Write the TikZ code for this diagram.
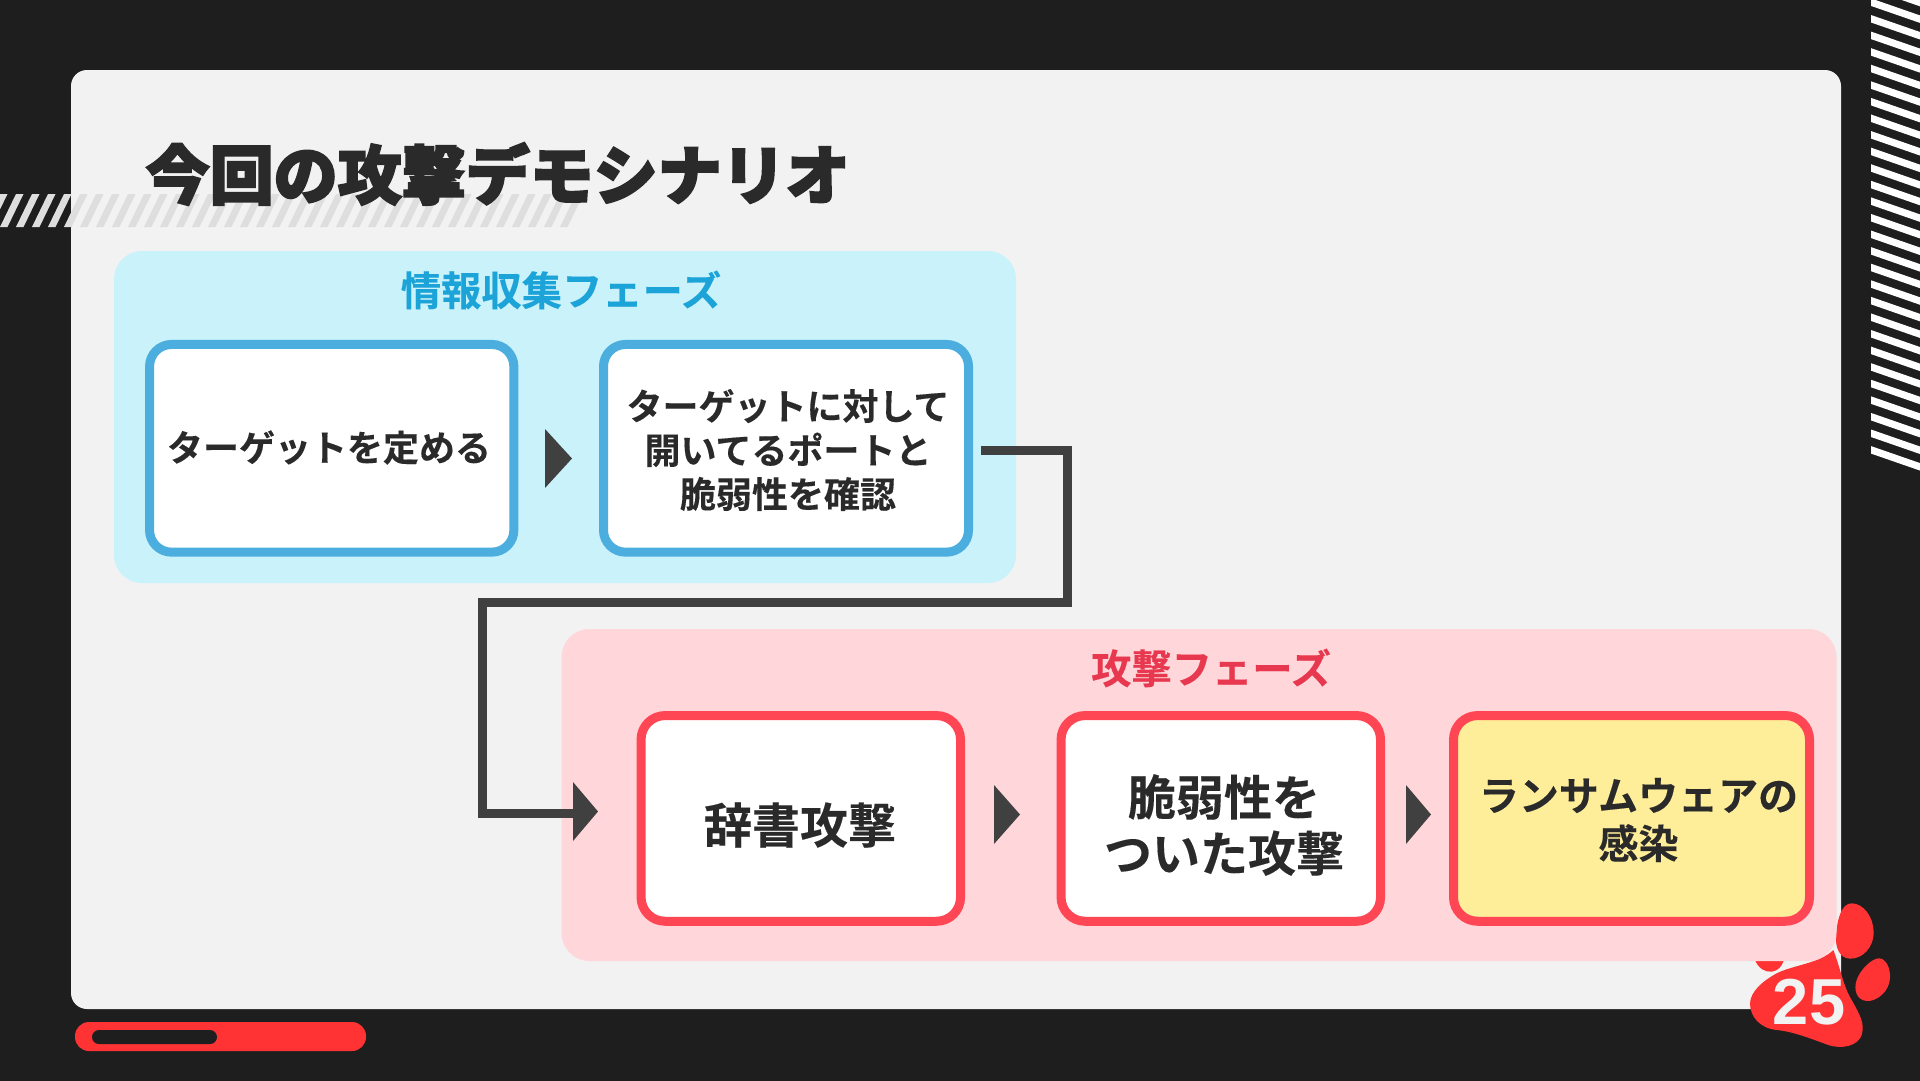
\documentclass[tikz,border=0pt]{standalone}
\usepackage{fontspec}
\usetikzlibrary{calc}
\setmainfont{Noto Sans CJK JP}[UprightFont=* Bold,BoldFont=* Black,UprightFeatures={FakeBold=0.25},BoldFeatures={FakeBold=3.2}]
\newfontfamily\numfont{Liberation Sans}[UprightFont=* Bold]
\definecolor{bgdark}{HTML}{1E1E1E}
\definecolor{panelc}{HTML}{F2F2F2}
\definecolor{redc}{HTML}{FF3333}
\definecolor{bluefill}{HTML}{C9F2FB}
\definecolor{blueline}{HTML}{4BAEDF}
\definecolor{bluetxt}{HTML}{1CA3D8}
\definecolor{pinkfill}{HTML}{FFD6D9}
\definecolor{redline}{HTML}{FF4655}
\definecolor{redtxt}{HTML}{E8384F}
\definecolor{yellowfill}{HTML}{FFEE99}
\definecolor{arrowc}{HTML}{404040}
\definecolor{txt}{HTML}{2A2A2A}
\definecolor{stripegrey}{HTML}{DEDEDE}
\tikzset{
 groupbox/.style={rounded corners=28,inner sep=0,outer sep=0},
 bluebox/.style={draw=blueline,line width=9,rounded corners=22,fill=white,inner sep=0,outer sep=0},
 redbox/.style={draw=redline,line width=9,rounded corners=24,fill=white,inner sep=0,outer sep=0},
 lab/.style={text=txt,align=center,inner sep=0,font=\fontsize{36}{44}\selectfont},
 labbig/.style={text=txt,align=center,inner sep=0,font=\fontsize{48}{56}\selectfont},
 lablast/.style={text=txt,align=center,inner sep=0,font=\fontsize{40}{48}\selectfont},
 head/.style={align=center,inner sep=0,font=\fontsize{40.3}{48}\selectfont},
 tri/.style={fill=arrowc},
 connector/.style={draw=arrowc,line width=9}
}
\begin{document}
\begin{tikzpicture}[x=1pt,y=-1pt]
\useasboundingbox (0,0) rectangle (1920,1080);
\fill[bgdark] (-3,-3) rectangle (1923,1083);
\fill[panelc,rounded corners=16] (71,70) rectangle (1841,1009);
% left stripes
\begin{scope}
\clip (0,190) rectangle (600,230);
\foreach \i in {-1,...,35}{
 \pgfmathsetmacro\xa{\i*16}
 \fill[stripegrey] (\xa,227) -- (\xa+7.5,227) -- (\xa+23.5,194) -- (\xa+16,194) -- cycle;
}
\end{scope}
% right stripes
\begin{scope}
\clip (1871,0) rectangle (1920,480);
\foreach \i in {-2,...,26}{
 \pgfmathsetmacro\ya{15+\i*16.58}
 \fill[white] (1871,\ya) -- (1920,\ya+17) -- (1920,\ya+24.5) -- (1871,\ya+7.5) -- cycle;
}
\end{scope}
% bottom bar
\fill[redc,rounded corners=14] (75,1022) rectangle (366,1051);
\fill[bgdark,rounded corners=7] (92,1030) rectangle (217,1044);
% paw
\begin{scope}[shift={(1680,860)},x=0.3333pt,y=-0.3333pt]
\fill[redc] (210,430) .. controls (212,395) and (245,365) .. (290,340)
 .. controls (340,315) and (420,310) .. (460,270)
 .. controls (480,320) and (490,380) .. (515,420)
 .. controls (540,465) and (555,490) .. (545,525)
 .. controls (535,555) and (490,570) .. (445,555)
 .. controls (390,535) and (340,515) .. (290,510)
 .. controls (240,505) and (210,470) .. (210,430) -- cycle;
\fill[redc] (515,130) .. controls (550,130) and (580,170) .. (581,215)
 .. controls (582,265) and (545,297) .. (510,296)
 .. controls (480,295) and (465,265) .. (468,225)
 .. controls (472,175) and (485,130) .. (515,130) -- cycle;
\fill[redc] (597,295) .. controls (618,295) and (632,325) .. (630,355)
 .. controls (628,395) and (590,425) .. (560,423)
 .. controls (530,420) and (520,390) .. (530,360)
 .. controls (540,330) and (575,295) .. (597,295) -- cycle;
\fill[redc] (225,300) .. controls (235,325) and (255,337) .. (275,335)
 .. controls (295,332) and (305,320) .. (312,300) -- cycle;
\end{scope}
% groups
\node[groupbox,fill=bluefill,minimum width=902,minimum height=332] (gblue) at (565,417) {};
\node[groupbox,fill=pinkfill,minimum width=1275,minimum height=332] (gred) at (1199,795) {};
% boxes
\node[bluebox,minimum width=364.3,minimum height=207.7] (b1) at (331.7,448.3) {};
\node[bluebox,minimum width=365,minimum height=207.7] (b2) at (786,448.3) {};
\node[redbox,minimum width=319.5,minimum height=205.7] (r1) at (800.8,818.4) {};
\node[redbox,minimum width=319.5,minimum height=205.7] (r2) at (1220.8,818.4) {};
\node[redbox,fill=yellowfill,minimum width=356,minimum height=205.7] (r3) at (1631.5,818.4) {};
% labels
\node[inner sep=0,anchor=west,text=txt,font=\bfseries\fontsize{64}{72}\selectfont] (title) at (145.5,174) {今回の攻撃デモシナリオ};
\node[head,text=bluetxt] (hblue) at (561,290) {情報収集フェーズ};
\node[head,text=redtxt] (hred) at (1211,668) {攻撃フェーズ};
\node[lab] (t1) at (329,447.5) {ターゲットを定める};
\node[lab] (t2) at (788,450) {ターゲットに対して\\開いてるポートと\\脆弱性を確認};
\node[labbig] (t3) at (800,825) {辞書攻撃};
\node[labbig] (t4) at (1224,825) {脆弱性を\\ついた攻撃};
\node[lablast] (t5) at (1638.5,820) {ランサムウェアの\\感染};
\node[inner sep=0,text=panelc,font=\numfont\fontsize{65}{65}\selectfont] (pg) at (1809,1002) {25};
% small arrows
\fill[tri] (545,429) -- (572,458.5) -- (545,488) -- cycle;
\fill[tri] (994,785) -- (1020,814.5) -- (994,844) -- cycle;
\fill[tri] (1406,785) -- (1431,814.5) -- (1406,844) -- cycle;
% connector
\coordinate (cstart) at ($(b2.east)+(12.2,2)$);
\coordinate (c1) at (1067,602);
\coordinate (c2) at (482.5,813.5);
\coordinate (cend) at (575,813.5);
\draw[connector] (cstart) -| (c1) -- (c2 |- c1) -- (c2) -- (cend);
\fill[tri] (573,782) -- (598,811.5) -- (573,841) -- cycle;
\end{tikzpicture}
\end{document}
